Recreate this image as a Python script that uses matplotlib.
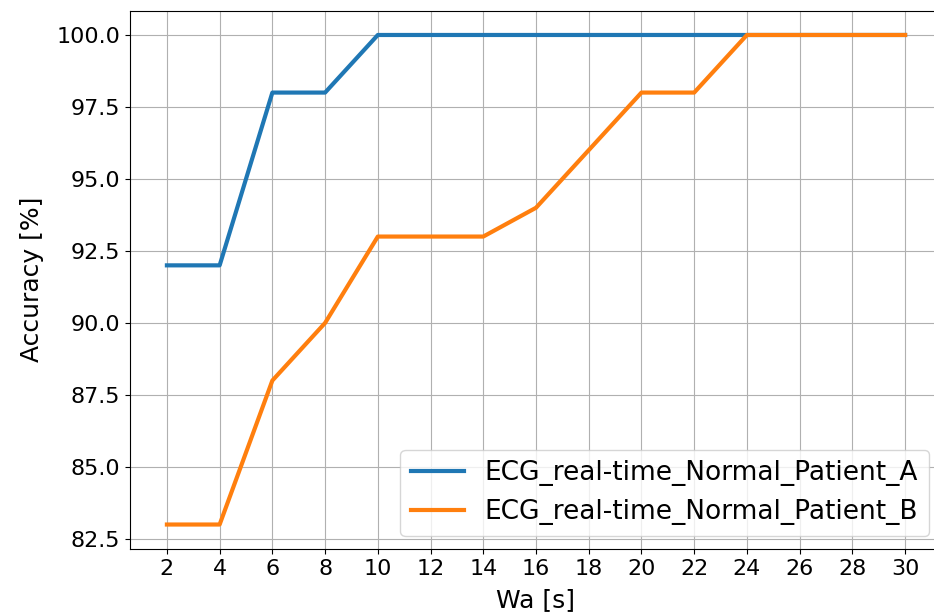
import matplotlib
matplotlib.use("Agg")
import matplotlib.pyplot as plt

wa = [2, 4, 6, 8, 10, 12, 14, 16, 18, 20, 22, 24, 26, 28, 30]
acc_a = [92, 92, 98, 98, 100, 100, 100, 100, 100, 100, 100, 100, 100, 100, 100]
acc_b = [83, 83, 88, 90, 93, 93, 93, 94, 96, 98, 98, 100, 100, 100, 100]

fig = plt.figure(figsize=(9.34, 6.12), dpi=100)
# axes runs a bit past the right edge (the original was cropped)
ax = fig.add_axes([130 / 934, 1 - 549 / 612, (942 - 130) / 934, (549 - 10.5) / 612])

ax.plot(wa, acc_a, lw=3, label="ECG_real-time_Normal_Patient_A")
ax.plot(wa, acc_b, lw=3, label="ECG_real-time_Normal_Patient_B")

ax.set_xticks(wa)
ax.tick_params(labelsize=16)
ax.set_xlabel("Wa [s]", fontsize=18, labelpad=7)
ax.set_ylabel("Accuracy [%]", fontsize=18, labelpad=9)
ax.grid(True)
ax.legend(loc="lower right", fontsize=19)

fig.savefig("out.png", dpi=100)
